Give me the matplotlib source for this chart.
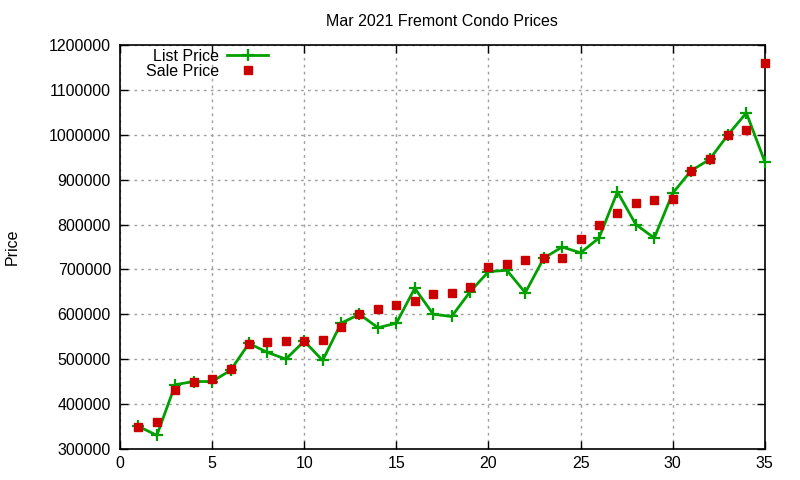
import matplotlib
matplotlib.use('Agg')
import matplotlib.pyplot as plt
from matplotlib.ticker import ScalarFormatter

plt.rcParams['font.family'] = ['Liberation Sans', 'DejaVu Sans']

day = list(range(1, 36))
list_price = [350000, 330000, 443000, 450000, 450000, 475000, 535000, 515000, 500000, 540000,
              497000, 580000, 600000, 570000, 580000, 658000, 600000, 595000, 650000, 695000,
              698000, 648000, 725000, 750000, 737000, 770000, 873000, 800000, 770000, 870000,
              920000, 945000, 1000000, 1049000, 940000]
sale_price = [348000, 360000, 430000, 450000, 455000, 477000, 533000, 537000, 540000, 540000,
              543000, 572000, 600000, 612000, 620000, 630000, 645000, 647000, 660000, 705000,
              713000, 720000, 725000, 725000, 768000, 800000, 826000, 847000, 855000, 858000,
              920000, 947000, 1000000, 1011000, 1160000]

fig = plt.figure(figsize=(8, 4.8), dpi=100)
ax = fig.add_axes([0.15, 0.065, 0.806, 0.841])

ax.plot(day, list_price, color='#00a000', lw=2, marker='+', ms=8, mew=1.6,
        label='List Price', clip_on=False, zorder=3)
ax.plot(day, sale_price, ls='none', marker='s', ms=6, color='#cc0000',
        label='Sale Price', clip_on=False, zorder=4)

ax.set_xlim(0, 35)
ax.set_ylim(300000, 1200000)
ax.set_xticks(range(0, 36, 5))
ax.set_yticks(range(300000, 1200001, 100000))
fmt = ScalarFormatter(useOffset=False)
fmt.set_scientific(False)
ax.yaxis.set_major_formatter(fmt)
ax.tick_params(direction='in', top=True, right=True, labelsize=11.5, length=6, width=1)
ax.tick_params(axis='y', pad=6.5)
ax.tick_params(axis='x', pad=5)
ax.grid(True, color='#a0a0a0', ls=(0, (2, 3)), lw=1)
for s in ax.spines.values():
    s.set_linewidth(1.2)

ax.set_title('Mar 2021 Fremont Condo Prices', fontsize=11.5, pad=14)
ax.set_ylabel('Price', fontsize=11.5, labelpad=21)

ax.legend(loc='upper left', frameon=False, markerfirst=False, fontsize=11.5,
          bbox_to_anchor=(0.025, 1.015), handlelength=2.6, labelspacing=0.0,
          handletextpad=0.5, borderaxespad=0.2)

fig.savefig('out.png', dpi=100)
